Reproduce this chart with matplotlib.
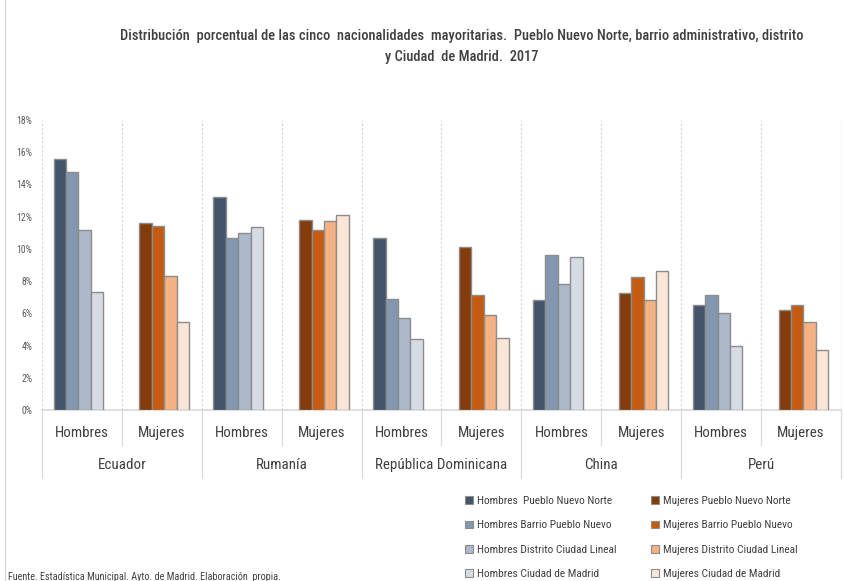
import matplotlib
matplotlib.use("Agg")
import matplotlib.pyplot as plt
from matplotlib.patches import Patch
from matplotlib.lines import Line2D

countries = ["Ecuador", "Rumanía", "República Dominicana", "China", "Perú"]
sexes = ["Hombres", "Mujeres"]
area_labels_h = ["Hombres  Pueblo Nuevo Norte", "Hombres Barrio Pueblo Nuevo",
                 "Hombres Distrito Ciudad Lineal", "Hombres Ciudad de Madrid"]
area_labels_m = ["Mujeres Pueblo Nuevo Norte", "Mujeres Barrio Pueblo Nuevo",
                 "Mujeres Distrito Ciudad Lineal", "Mujeres Ciudad de Madrid"]

# values (%) per country: [Pueblo Nuevo Norte, Barrio, Distrito, Madrid]
hombres = {
    "Ecuador": [15.6, 14.8, 11.2, 7.35],
    "Rumanía": [13.25, 10.65, 11.0, 11.35],
    "República Dominicana": [10.65, 6.9, 5.7, 4.4],
    "China": [6.8, 9.65, 7.8, 9.5],
    "Perú": [6.5, 7.15, 6.0, 3.95],
}
mujeres = {
    "Ecuador": [11.6, 11.45, 8.3, 5.45],
    "Rumanía": [11.8, 11.2, 11.75, 12.1],
    "República Dominicana": [10.1, 7.15, 5.9, 4.45],
    "China": [7.25, 8.25, 6.8, 8.6],
    "Perú": [6.2, 6.5, 5.45, 3.75],
}
yticks = [0, 2, 4, 6, 8, 10, 12, 14, 16, 18]

col_h = ["#44546A", "#8497B0", "#ADB9CA", "#D6DCE4"]
col_m = ["#843C0C", "#C55A11", "#F4B183", "#FBE5D6"]
edge = "#8C8C8C"
txt = "#404040"
plt.rcParams["font.family"] = ["Roboto Condensed", "DejaVu Sans"]

W, H = 845, 581
fig = plt.figure(figsize=(W / 100, H / 100), dpi=100)
L, R, T, B = 42, 841, 120, 410
ax = fig.add_axes([L / W, 1 - B / H, (R - L) / W, (B - T) / H])

bw = 0.155
n_cat = len(countries) * 2
for ci, c in enumerate(countries):
    for si, s in enumerate(sexes):
        k = ci * 2 + si
        vals = hombres[c] if s == "Hombres" else mujeres[c]
        cols = col_h if s == "Hombres" else col_m
        shift = -0.045 if s == "Hombres" else 0.03
        center = k + 0.5 + shift
        for j, v in enumerate(vals):
            x = center + (j - 1.5) * bw
            ax.bar(x, v, width=bw, color=cols[j], edgecolor=edge, linewidth=1.0, zorder=3)

ax.set_xlim(0, n_cat)
ax.set_ylim(0, 18)
ax.set_yticks(yticks)
ax.set_yticklabels([f"{t}%" for t in yticks], fontsize=7, color="#595959")
ax.tick_params(axis="y", length=0, pad=7)
ax.set_xticks([])
for sp in ["top", "right", "left"]:
    ax.spines[sp].set_visible(False)
ax.spines["bottom"].set_color("#D9D9D9")
ax.spines["bottom"].set_linewidth(1.2)
for i in range(n_cat + 1):
    ax.axvline(i, color="#D9D9D9", linestyle=(0, (2, 1.5)), linewidth=0.9, zorder=1)

xt = ax.get_xaxis_transform()
ph = (B - T)
def yf(px):
    return (B - px) / ph
for i in range(n_cat + 1):
    bottom = 478 if i % 2 == 0 else 445
    ax.add_line(Line2D([i, i], [0, yf(bottom)], transform=xt, color="#D9D9D9",
                       linewidth=0.9, clip_on=False))
for k in range(n_cat):
    ax.text(k + 0.5, yf(433), sexes[k % 2], transform=xt, ha="center", va="center",
            fontsize=10.8, color=txt, clip_on=False)
for ci, c in enumerate(countries):
    ax.text(ci * 2 + 1, yf(465), c, transform=xt, ha="center", va="center",
            fontsize=10.8, color=txt, clip_on=False)

fig.text(462 / W, 1 - 36 / H,
         "Distribución  porcentual de las cinco  nacionalidades  mayoritarias.  Pueblo Nuevo Norte, barrio administrativo, distrito",
         ha="center", va="center", fontsize=10.4, color=txt, fontweight="medium")
fig.text(462 / W, 1 - 57 / H, "y Ciudad  de Madrid.  2017",
         ha="center", va="center", fontsize=10.4, color=txt, fontweight="medium")

fig.text(8 / W, 1 - 577 / H,
         "Fuente. Estadística Municipal. Ayto. de Madrid. Elaboración  propia.",
         ha="left", va="center", fontsize=7.3, color=txt)

handles = [Patch(facecolor=c, edgecolor=edge, linewidth=0.8) for c in col_h + col_m]
labels = area_labels_h + area_labels_m
fig.legend(handles, labels, ncol=2, loc="upper left",
           bbox_to_anchor=(455 / W, 1 - 486 / H), frameon=False,
           fontsize=8.2, handlelength=0.7, handleheight=0.7, handletextpad=0.3,
           columnspacing=3.1, labelspacing=1.25, labelcolor=txt)

fig.add_artist(Line2D([5 / W, 5 / W], [0, 1], transform=fig.transFigure,
                      color="#D9D9D9", linewidth=1))

fig.savefig("out.png", dpi=100)
